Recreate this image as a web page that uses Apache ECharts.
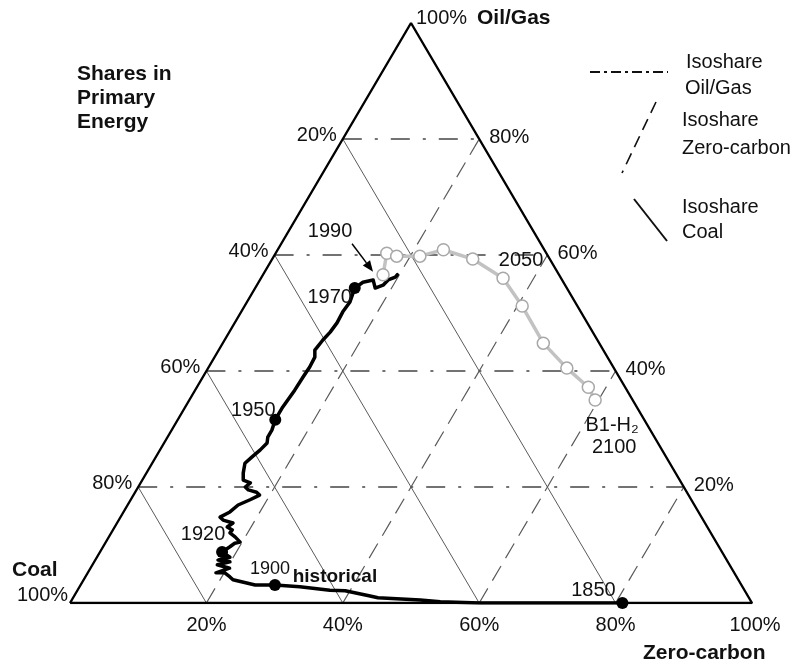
<!DOCTYPE html>
<html>
<head>
<meta charset="utf-8">
<script src="https://cdn.jsdelivr.net/npm/echarts@6/dist/echarts.min.js"></script>
<style>
  html, body { margin: 0; padding: 0; background: #fff; }
  #chart { width: 798px; height: 665px; }
</style>
</head>
<body>
<div id="chart"></div>
<script>
// ---- data: shares of primary energy, in percent ----
const shareTicks = [20, 40, 60, 80];
const shareTickLabels = ['20%', '40%', '60%', '80%'];
const bottomTicks = [20, 40, 60, 80, 100];
const bottomTickLabels = ['20%', '40%', '60%', '80%', '100%'];

// historical path 1850 -> 1990 (zero-carbon share, oil/gas share; coal is the rest)
const histZeroCarbon = [81.0, 69.6, 60.1, 54.2, 51.1, 44.7, 43.4, 39.3, 37.0, 32.3, 28.5, 25.6, 21.9, 21.2, 20.1, 18.8,
  20.4, 18.3, 19.9, 18.0, 19.5, 17.9, 18.6, 19.0, 19.7, 18.5, 17.4, 17.5, 16.5, 17.0, 15.3, 14.6, 15.6, 16.2, 17.5,
  18.5, 17.8, 16.4, 15.7, 16.1, 14.8, 14.2, 13.6, 14.1, 14.7, 15.1, 14.7, 14.7, 14.3, 14.3, 14.6, 14.7, 14.8, 14.7,
  14.1, 14.4, 14.8, 15.0, 14.9, 15.1, 14.6, 15.3, 16.6, 17.6, 18.5, 18.8, 19.6, 19.7];
const histOilGas = [0, 0, 0, 0.2, 0.5, 0.9, 1.2, 2.1, 2.2, 2.8, 3.1, 3.1, 4.0, 4.5, 5.2, 5.2,
  6.0, 6.6, 7.1, 7.4, 7.9, 8.8, 9.7, 10.3, 10.5, 11.4, 12.1, 12.6, 13.1, 13.8, 14.3, 14.8, 15.7, 16.9, 17.8,
  18.6, 19.1, 19.5, 20.0, 20.7, 21.2, 22.4, 24.1, 25.2, 26.4, 27.6, 28.6, 29.8, 31.6, 33.8, 36.7, 39.0, 40.7, 42.4,
  43.6, 45.3, 46.7, 48.3, 50.2, 51.9, 54.3, 55.3, 55.7, 54.3, 54.8, 55.7, 56.2, 56.6];

// marked years on the historical path
const milestoneYears = [1850, 1900, 1920, 1950, 1970];
const milestoneZeroCarbon = [81.0, 28.5, 17.9, 14.3, 14.6];
const milestoneOilGas = [0, 3.1, 8.8, 31.6, 54.3];

// B1-H2 scenario, 1990 -> 2100 in decades
const scenarioYears = [1990, 2000, 2010, 2020, 2030, 2040, 2050, 2060, 2070, 2080, 2090, 2100];
const scenarioZeroCarbon = [17.6, 16.3, 18.0, 21.4, 24.3, 29.4, 35.5, 40.7, 47.0, 52.6, 57.4, 59.5];
const scenarioOilGas = [56.6, 60.3, 59.8, 59.8, 60.9, 59.3, 56.0, 51.2, 44.8, 40.5, 37.2, 35.0];

// ---- drawing ----
const FONT = '"Liberation Sans", Arial, Helvetica, sans-serif';
const INK = '#111';

// ternary (zero-carbon, oil/gas) -> position in the triangle's plane
function tern(z, o) { return [z + o / 2, o]; }
function seg(a, b) { return { coords: [tern(a[0], a[1]), tern(b[0], b[1])] }; }

const oilGasIso = shareTicks.map(k => seg([0, k], [100 - k, k]));
const zeroCarbonIso = shareTicks.map(k => seg([k, 0], [k, 100 - k]));
const coalIso = shareTicks.map(c => seg([100 - c, 0], [0, 100 - c]));

const triangle = [[0, 0], [100, 0], [0, 100], [0, 0]].map(p => tern(p[0], p[1]));

function tag(z, o, text, dx, dy, extra) {
  return {
    value: tern(z, o),
    label: Object.assign({ show: true, formatter: text, offset: [dx, dy] }, extra || {})
  };
}

const tickTags = [];
shareTicks.forEach((k, i) => {
  // coal share along the left edge
  tickTags.push(tag(0, 100 - k, shareTickLabels[i], -6, -4, { align: 'right' }));
  // oil/gas share along the right edge
  tickTags.push(tag(100 - k, k, shareTickLabels[i], 10, -2, { align: 'left' }));
});
bottomTicks.forEach((k, i) => {
  tickTags.push(tag(k, 0, bottomTickLabels[i], k === 100 ? 3 : 0, 22, { align: 'center' }));
});
// corner labels
tickTags.push(tag(0, 100, '100%', 5, -5, { align: 'left' }));
tickTags.push(tag(0, 100, 'Oil/Gas', 66, -5, { align: 'left', fontWeight: 'bold', fontSize: 21 }));
tickTags.push(tag(0, 0, 'Coal', -58, -33, { align: 'left', fontWeight: 'bold', fontSize: 21 }));
tickTags.push(tag(0, 0, '100%', -53, -8, { align: 'left' }));
tickTags.push(tag(100, 0, 'Zero-carbon', -109, 50, { align: 'left', fontWeight: 'bold', fontSize: 21 }));

const milestoneLabelShift = { 1850: [-29, -13], 1900: [-5, -16], 1920: [-19, -17], 1950: [-22, -9], 1970: [-25, 9] };
const milestones = milestoneYears.map((yr, i) => ({
  value: tern(milestoneZeroCarbon[i], milestoneOilGas[i]),
  label: {
    show: true, formatter: String(yr), offset: milestoneLabelShift[yr],
    fontSize: yr === 1900 ? 18 : 20
  }
}));

const idx1900 = milestoneYears.indexOf(1900);
const idx2050 = scenarioYears.indexOf(2050);
const last = scenarioYears.length - 1;
const noteTags = [
  tag(milestoneZeroCarbon[idx1900], milestoneOilGas[idx1900], 'historical', 60, -8,
      { align: 'center', fontWeight: 'bold', fontSize: 19 }),
  tag(scenarioZeroCarbon[idx2050], scenarioOilGas[idx2050], '2050', 18, -18, { align: 'center' }),
  tag(scenarioZeroCarbon[last], scenarioOilGas[last], 'B1-H₂', 17, 25, { align: 'center' }),
  tag(scenarioZeroCarbon[last], scenarioOilGas[last], String(scenarioYears[last]), 19, 47, { align: 'center' })
];

const textLabel = {
  position: 'inside', verticalAlign: 'middle', color: INK, fontSize: 20, fontFamily: FONT, opacity: 1
};

const chart = echarts.init(document.getElementById('chart'));
chart.setOption({
  animation: false,
  backgroundColor: '#fff',
  grid: { left: 70, top: 23, width: 682, height: 580, containLabel: false },
  xAxis: { type: 'value', min: 0, max: 100, show: false },
  yAxis: { type: 'value', min: 0, max: 100, show: false },
  series: [
    {
      type: 'lines', coordinateSystem: 'cartesian2d', silent: true, z: 1,
      lineStyle: { color: '#444', width: 1.5, type: [19, 13, 3, 13], opacity: 1 },
      data: oilGasIso
    },
    {
      type: 'lines', coordinateSystem: 'cartesian2d', silent: true, z: 1,
      lineStyle: { color: '#5a5a5a', width: 1.2, type: [17, 9], opacity: 1 },
      data: zeroCarbonIso
    },
    {
      type: 'lines', coordinateSystem: 'cartesian2d', silent: true, z: 1,
      lineStyle: { color: '#5a5a5a', width: 1, type: 'solid', opacity: 1 },
      data: coalIso
    },
    {
      type: 'line', data: triangle, symbol: 'none', silent: true, z: 2,
      lineStyle: { color: '#000', width: 2.4 }
    },
    {
      type: 'line', name: 'historical', symbol: 'none', z: 3,
      data: histZeroCarbon.map((z, i) => tern(z, histOilGas[i])),
      lineStyle: { color: '#000', width: 3.5, join: 'round', cap: 'round' }
    },
    {
      type: 'scatter', name: 'milestones', symbol: 'circle', symbolSize: 12, z: 4,
      itemStyle: { color: '#000', opacity: 1 },
      label: Object.assign({}, textLabel, { align: 'center' }),
      data: milestones
    },
    {
      type: 'line', name: 'B1-H2', symbol: 'circle', symbolSize: 12, showAllSymbol: true, z: 5,
      data: scenarioZeroCarbon.map((z, i) => tern(z, scenarioOilGas[i])),
      lineStyle: { color: '#c2c2c2', width: 3.5 },
      itemStyle: { color: '#fff', borderColor: '#a8a8a8', borderWidth: 1.5 }
    },
    {
      type: 'scatter', symbolSize: 1, silent: true, z: 6,
      itemStyle: { color: 'rgba(0,0,0,0)', opacity: 1 },
      label: textLabel,
      data: tickTags.concat(noteTags)
    }
  ]
});

// arrow pointing at the 1990 start of the scenario, with its year
const p1990 = chart.convertToPixel({ gridIndex: 0 }, tern(scenarioZeroCarbon[0], scenarioOilGas[0]));
const tip = [p1990[0] - 10, p1990[1] - 3];
const tail = [p1990[0] - 31, p1990[1] - 31];
const ang = Math.atan2(tip[1] - tail[1], tip[0] - tail[0]);
const headLen = 11, headHalf = 4.5;
const base = [tip[0] - headLen * Math.cos(ang), tip[1] - headLen * Math.sin(ang)];
const nx = -Math.sin(ang), ny = Math.cos(ang);

const legendText = (x, y, t) => ({
  type: 'text', x: x, y: y,
  style: { text: t, fill: INK, font: '20px ' + FONT, textAlign: 'left', textVerticalAlign: 'middle' }
});
const titleText = (y, t) => ({
  type: 'text', x: 77, y: y,
  style: { text: t, fill: INK, font: 'bold 21px ' + FONT, textAlign: 'left', textVerticalAlign: 'middle' }
});

chart.setOption({
  graphic: [
    titleText(74, 'Shares in'),
    titleText(98, 'Primary'),
    titleText(122, 'Energy'),
    // legend
    { type: 'line', shape: { x1: 590, y1: 72, x2: 668, y2: 72 },
      style: { stroke: '#111', lineWidth: 2.2, lineDash: [10, 4, 3, 4] } },
    legendText(686, 62, 'Isoshare'),
    legendText(685, 88, 'Oil/Gas'),
    { type: 'line', shape: { x1: 656, y1: 102, x2: 622, y2: 173 },
      style: { stroke: '#111', lineWidth: 1.6, lineDash: [12, 7] } },
    legendText(682, 120, 'Isoshare'),
    legendText(682, 148, 'Zero-carbon'),
    { type: 'line', shape: { x1: 634, y1: 199, x2: 667, y2: 241 },
      style: { stroke: '#111', lineWidth: 2 } },
    legendText(682, 207, 'Isoshare'),
    legendText(682, 232, 'Coal'),
    // 1990 arrow
    { type: 'line', z: 20, shape: { x1: tail[0], y1: tail[1], x2: base[0], y2: base[1] },
      style: { stroke: '#000', lineWidth: 1.5 } },
    { type: 'polygon', z: 20,
      shape: { points: [tip, [base[0] + nx * headHalf, base[1] + ny * headHalf], [base[0] - nx * headHalf, base[1] - ny * headHalf]] },
      style: { fill: '#000' } },
    { type: 'text', x: tail[0] - 22, y: tail[1] - 12, z: 20,
      style: { text: String(scenarioYears[0]), fill: INK, font: '20px ' + FONT, textAlign: 'center', textVerticalAlign: 'middle' } }
  ]
});
</script>
</body>
</html>
